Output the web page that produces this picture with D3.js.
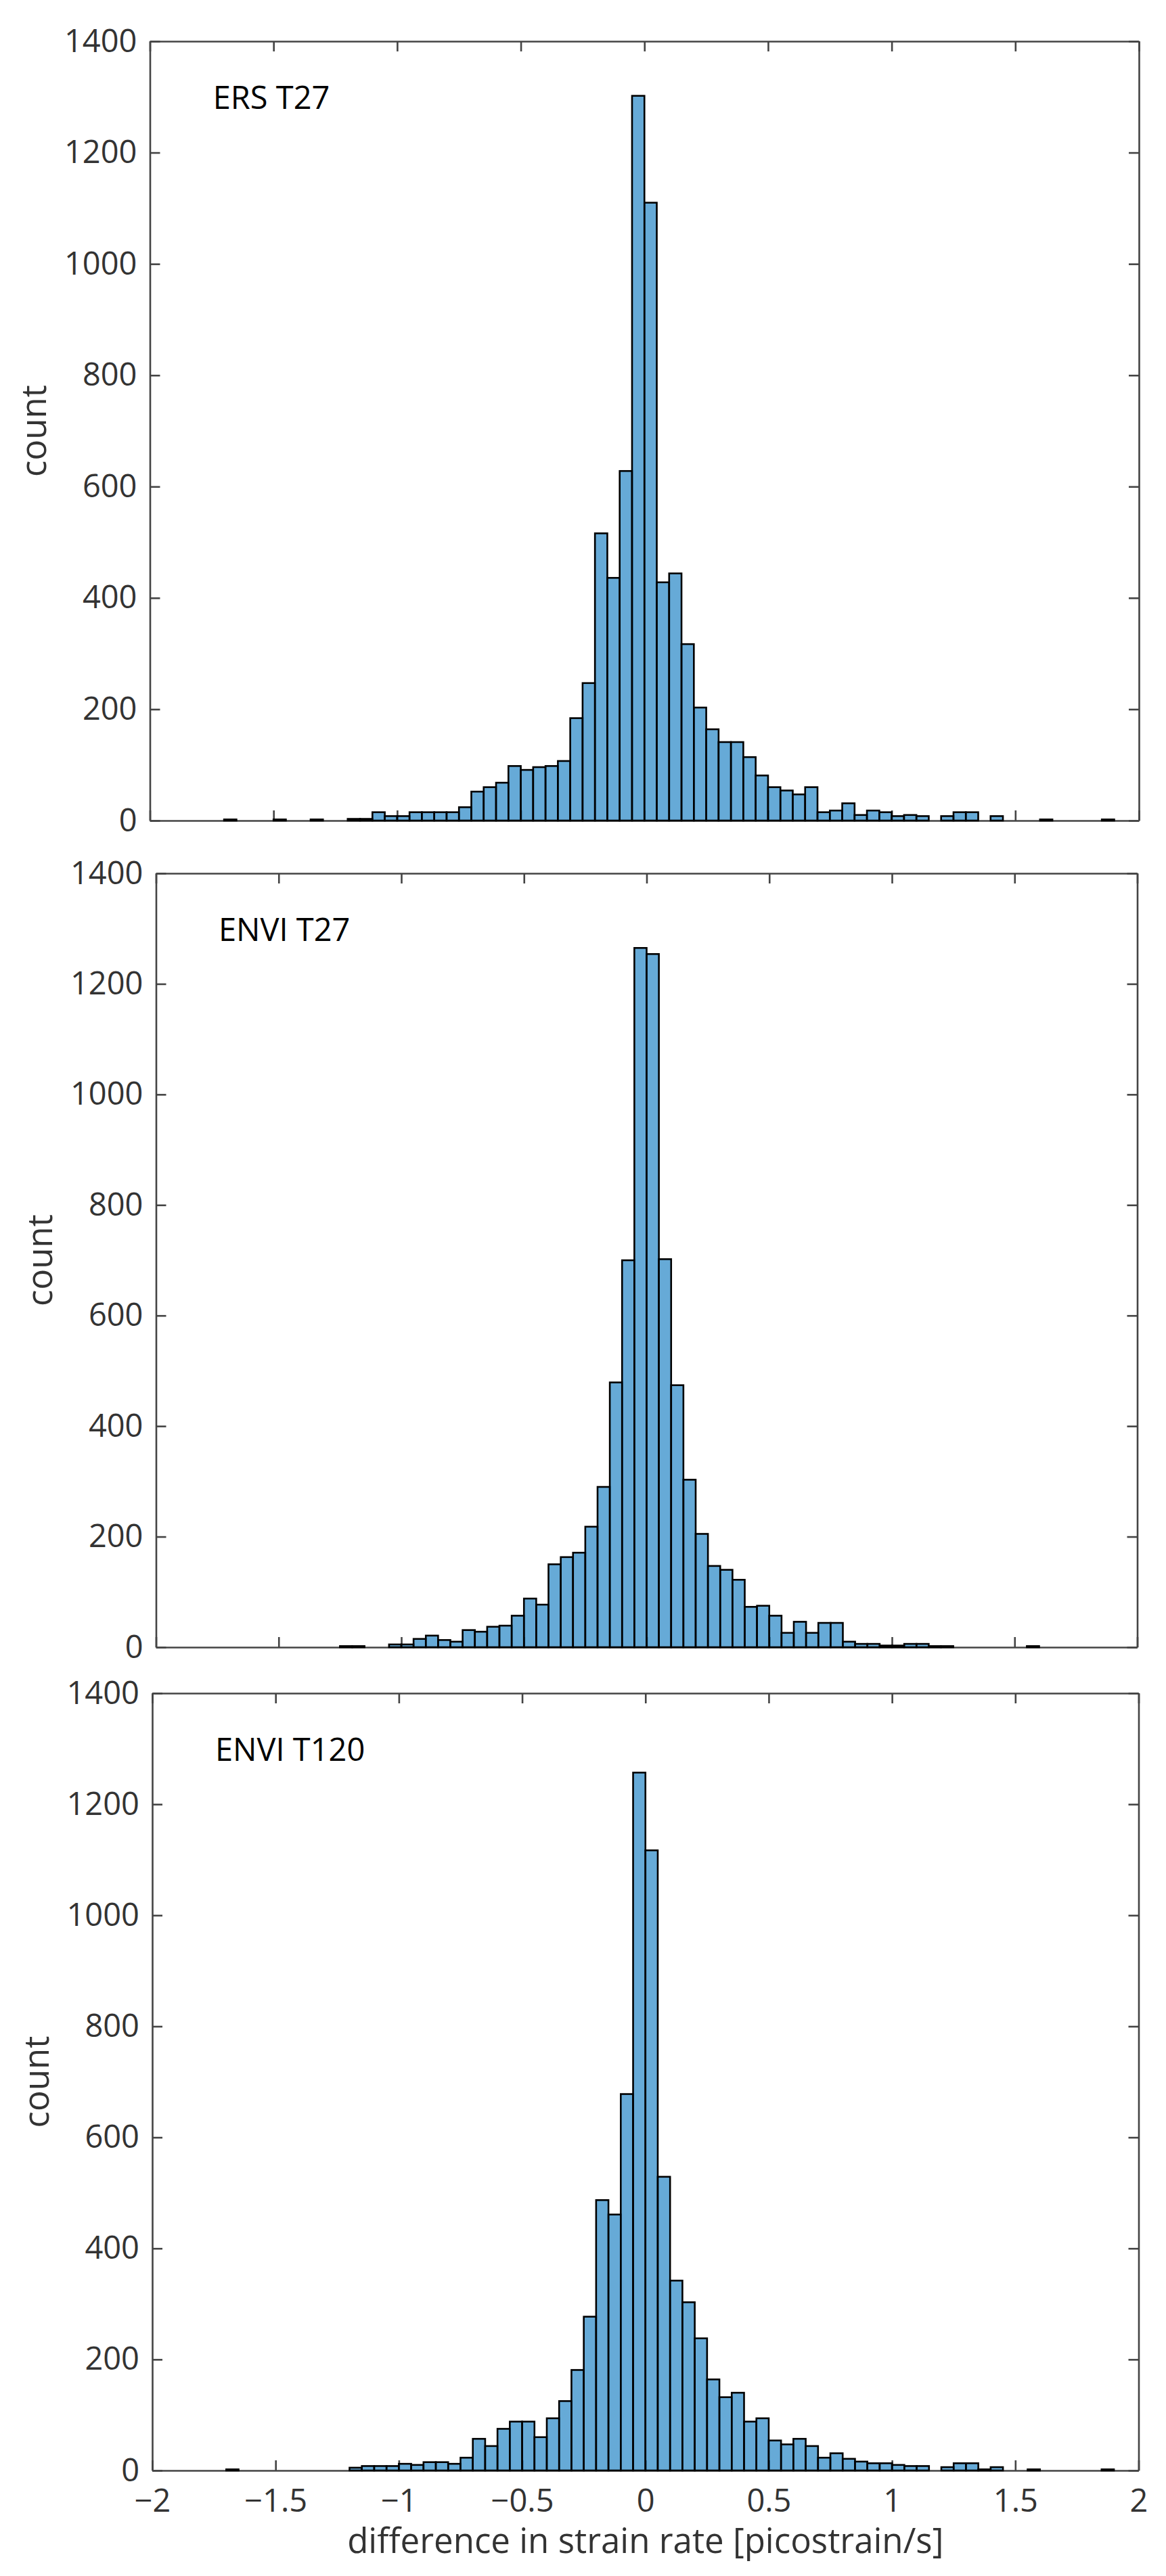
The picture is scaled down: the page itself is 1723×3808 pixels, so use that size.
<!DOCTYPE html>
<html lang="en">
<head>
    <meta charset="UTF-8">
    <title>Strain rate difference histograms</title>
    <script src="https://d3js.org/d3.v7.min.js"></script>
    <style>
        html, body {
            margin: 0;
            background: #fff;
        }

        svg {
            display: block;
        }

        text {
            font-family: "Open Sans", sans-serif;
            font-size: 47px;
            fill: #333;
        }

        .axis-label {
            font-size: 51px;
        }

        .bar {
            fill: #0072bd;
            fill-opacity: 0.6;
            stroke: #000;
            stroke-width: 2.6px;
        }

        .axis path, .axis line {
            stroke: #444;
            stroke-width: 2.6px;
            fill: none;
        }

        .panel-name {
            fill: #000;
        }
    </style>
</head>
<body>
<svg width="1723" height="3808"></svg>
<script>
    // histogram counts, one value per 0.05 wide bin, first bin starts at -2
    const binStart = -2;
    const binWidth = 0.05;

    const ersT27 = [
        0, 0, 0, 0, 0, 0, 2, 0, 0, 0, 2, 0, 0, 2, 0, 0,
        3, 3, 15, 8, 8, 15, 15, 15, 15, 24, 52, 60, 68, 98, 91, 96, 98, 107, 184, 247, 516, 436, 628, 1302,
        1110, 428, 444, 317, 203, 164, 141, 141, 114, 81, 60, 54, 47, 60, 15, 18, 31, 10, 18, 15,
        8, 10, 8, 0, 8, 15, 15, 0, 8, 0, 0, 0, 2, 0, 0, 0, 0, 2, 0, 0
    ];

    const enviT27 = [
        0, 0, 0, 0, 0, 0, 0, 0, 0, 0, 0, 0, 0, 0, 0, 2, 2, 0, 0,
        5, 5, 15, 21, 13, 10, 31, 28, 37, 39, 57, 88, 77, 150, 163, 171, 218, 290, 479, 700, 1265,
        1254, 702, 474, 303, 205, 147, 140, 122, 73, 75, 57, 26, 46, 26, 44, 44, 10, 6, 6, 3,
        3, 6, 6, 2, 2, 0, 0, 0, 0, 0, 0, 2, 0, 0, 0, 0, 0, 0, 0, 0
    ];

    const enviT120 = [
        0, 0, 0, 0, 0, 0, 2, 0, 0, 0, 0, 0, 0, 0, 0, 0,
        5, 8, 8, 8, 12, 10, 15, 15, 12, 23, 57, 44, 75, 88, 88, 60, 94, 125, 181, 277, 487, 461, 678, 1257,
        1117, 529, 342, 303, 238, 164, 132, 140, 88, 94, 54, 47, 57, 44, 23, 31, 21, 16, 13, 13,
        10, 8, 8, 0, 6, 13, 13, 2, 6, 0, 0, 2, 0, 0, 0, 0, 0, 2, 0, 0
    ];

    const xTicks = [-2, -1.5, -1, -0.5, 0, 0.5, 1, 1.5, 2];
    const yTicks = [0, 200, 400, 600, 800, 1000, 1200, 1400];
    const xDomain = [-2, 2];
    const yDomain = [0, 1400];
    const namePosition = [-1.745, 1278];

    // the three axes are not quite aligned in the figure
    const panels = [
        {name: "ERS T27", counts: ersT27, left: 221.5, right: 1683, top: 61, bottom: 1213, labelX: 68},
        {name: "ENVI T27", counts: enviT27, left: 230.5, right: 1680.5, top: 1291, bottom: 2435, labelX: 77},
        {name: "ENVI T120", counts: enviT120, left: 225, right: 1682.5, top: 2503, bottom: 3652, labelX: 72}
    ];

    const svg = d3.select("svg");
    const tickLength = 15;

    const xFormat = d => d3.format("")(d).replace("-", "\u2212");

    panels.forEach((panel, i) => {
        const x = d3.scaleLinear().domain(xDomain).range([panel.left, panel.right]);
        const y = d3.scaleLinear().domain(yDomain).range([panel.bottom, panel.top]);
        const isLast = i === panels.length - 1;

        const g = svg.append("g");

        // axes go first, the see-through bars are drawn over them
        g.append("g")
            .attr("class", "axis")
            .attr("transform", `translate(0,${panel.bottom})`)
            .call(d3.axisBottom(x)
                .tickValues(xTicks)
                .tickSizeInner(-tickLength)
                .tickSizeOuter(0)
                .tickPadding(28)
                .tickFormat(isLast ? xFormat : ""));

        g.append("g")
            .attr("class", "axis")
            .attr("transform", `translate(0,${panel.top})`)
            .call(d3.axisTop(x)
                .tickValues(xTicks)
                .tickSizeInner(-tickLength)
                .tickSizeOuter(0)
                .tickFormat(""));

        g.append("g")
            .attr("class", "axis")
            .attr("transform", `translate(${panel.left},0)`)
            .call(d3.axisLeft(y)
                .tickValues(yTicks)
                .tickSizeInner(-tickLength)
                .tickSizeOuter(0)
                .tickPadding(19)
                .tickFormat(d3.format("")));

        g.append("g")
            .attr("class", "axis")
            .attr("transform", `translate(${panel.right},0)`)
            .call(d3.axisRight(y)
                .tickValues(yTicks)
                .tickSizeInner(-tickLength)
                .tickSizeOuter(0)
                .tickFormat(""));

        g.selectAll("rect")
            .data(panel.counts.map((count, k) => ({start: binStart + k * binWidth, count})).filter(d => d.count > 0))
            .enter().append("rect")
            .attr("class", "bar")
            .attr("x", d => x(d.start))
            .attr("width", d => x(d.start + binWidth) - x(d.start))
            .attr("y", d => y(d.count))
            .attr("height", d => y(0) - y(d.count));

        g.append("text")
            .attr("class", "panel-name")
            .attr("x", x(namePosition[0]))
            .attr("y", y(namePosition[1]))
            .text(panel.name);

        g.append("text")
            .attr("class", "axis-label")
            .attr("transform", `translate(${panel.labelX},${(panel.top + panel.bottom) / 2}) rotate(-90)`)
            .attr("text-anchor", "middle")
            .text("count");

        if (isLast) {
            g.append("text")
                .attr("class", "axis-label")
                .attr("x", (panel.left + panel.right) / 2)
                .attr("y", 3774)
                .attr("text-anchor", "middle")
                .text("difference in strain rate [picostrain/s]");
        }
    });
</script>
</body>
</html>
